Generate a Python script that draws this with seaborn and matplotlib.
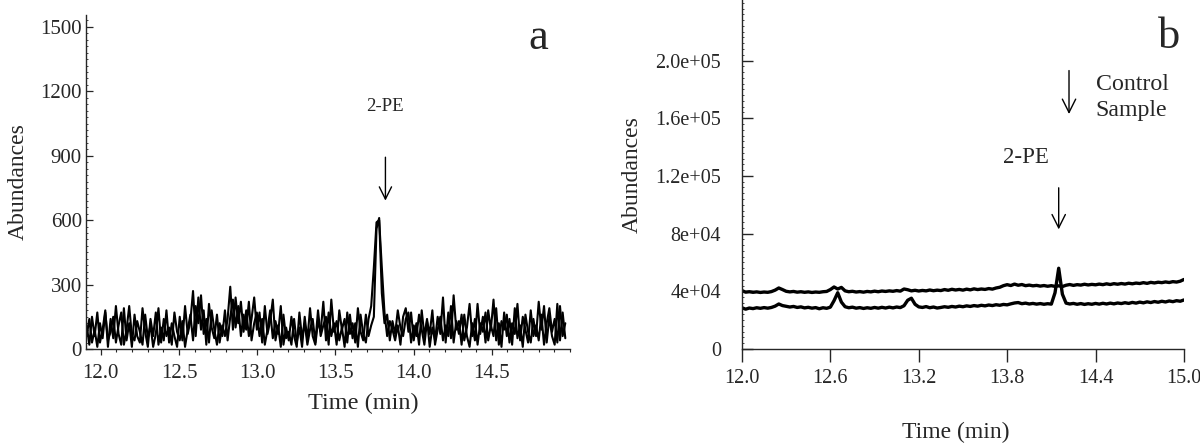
import numpy as np
import pandas as pd
import matplotlib
matplotlib.use("Agg")
import matplotlib.pyplot as plt
from matplotlib.ticker import MultipleLocator, FixedLocator
import seaborn as sns

# ---------------- data: panel a (time 11.91 .. 14.97 min, step 0.017) ----------------
a_t0, a_step = 11.91, 0.017
a_trace1 = [110, 20, 150, 60, 170, 30, 90, 180, 10, 140,
            50, 200, 70, 20, 190, 40, 120, 10, 160, 60,
            30, 190, 80, 10, 140, 60, 170, 20, 100, 40,
            180, 30, 120, 60, 10, 150, 40, 200, 70, 130,
            270, 60, 240, 90, 180, 20, 210, 100, 50, 160,
            30, 110, 60, 140, 290, 90, 240, 120, 220, 80,
            180, 60, 140, 240, 90, 170, 30, 200, 70, 130,
            230, 40, 110, 10, 160, 50, 80, 20, 140, 30,
            100, 10, 150, 40, 190, 60, 20, 130, 80, 220,
            40, 170, 60, 120, 20, 180, 90, 140, 30, 160,
            50, 120, 10, 160, 70, 30, 140, 200, 380, 590,
            600, 380, 170, 60, 130, 90, 40, 110, 20, 150,
            190, 80, 170, 40, 120, 20, 180, 60, 140, 10,
            100, 40, 150, 70, 240, 30, 170, 50, 250, 90,
            130, 20, 160, 60, 10, 120, 40, 210, 70, 150,
            30, 180, 90, 230, 40, 120, 10, 170, 60, 140,
            20, 190, 50, 110, 10, 160, 80, 30, 140, 60,
            220, 90, 200, 30, 150, 60, 20, 210, 40, 170, 50]
a_trace2 = [60, 140, 30, 90, 10, 120, 50, 170, 40, 80,
            150, 30, 110, 170, 20, 90, 200, 60, 40, 130,
            80, 20, 160, 50, 110, 10, 70, 190, 30, 140,
            60, 100, 20, 170, 80, 40, 130, 10, 90, 160,
            40, 200, 120, 250, 70, 140, 30, 180, 90, 20,
            120, 60, 180, 40, 150, 230, 100, 200, 60, 160,
            90, 220, 40, 120, 170, 60, 140, 20, 90, 180,
            50, 130, 70, 200, 20, 100, 40, 150, 60, 10,
            170, 50, 120, 20, 90, 140, 30, 180, 60, 110,
            150, 20, 230, 80, 130, 40, 100, 10, 170, 70,
            120, 30, 190, 80, 40, 160, 60, 110, 150, 560,
            610, 260, 120, 160, 40, 130, 70, 180, 100, 60,
            140, 170, 30, 110, 60, 160, 90, 20, 130, 70,
            180, 20, 90, 150, 40, 110, 60, 200, 30, 130,
            70, 160, 40, 100, 210, 60, 140, 20, 120, 80,
            170, 40, 110, 60, 190, 20, 130, 90, 160, 30,
            120, 70, 210, 40, 150, 90, 30, 180, 60, 110,
            40, 160, 20, 120, 190, 80, 140, 30, 200, 60, 120]
a_xticks = [12.0, 12.5, 13.0, 13.5, 14.0, 14.5]
a_yticks = [0, 300, 600, 900, 1200, 1500]

# ---------------- data: panel b (time 12.000 .. 15.000 min, step 0.025) ----------------
b_t0, b_step = 12.0, 0.025
b_control = [40500, 39400, 39700, 39300, 39600, 39200, 39500, 39300, 39800, 40800,
             42300, 41200, 40000, 39600, 39900, 39400, 39700, 39300, 39600, 39200,
             39500, 39300, 39700, 39900, 41200, 43000, 41600, 42700, 40300, 39700,
             40000, 39500, 39800, 39400, 39900, 39600, 40100, 39700, 40200, 39900,
             40300, 40000, 40500, 40100, 41600, 41100, 40300, 40700, 40200, 40600,
             40300, 40900, 40400, 40800, 40500, 41200, 40700, 41400, 40900, 41300,
             40800, 41500, 41000, 41700, 41200, 41600, 41300, 41900, 41500, 42300,
             42800, 43900, 44600, 44000, 45000, 44200, 44700, 43900, 44300, 43800,
             44100, 43600, 44000, 43500, 43900, 43400, 43800, 43300, 44200, 44700,
             44100, 44600, 44300, 44900, 44400, 44800, 44500, 45000, 44600, 45200,
             44700, 45300, 44900, 45400, 45000, 45600, 45200, 45700, 45400, 46000,
             45500, 46200, 45800, 46300, 46000, 46500, 46100, 46700, 46400, 47000,
             48200]
b_sample = [28600, 27600, 28400, 28000, 28600, 28200, 28700, 28300, 28800, 29700,
            31200, 30100, 29600, 29100, 29500, 28800, 29200, 28500, 28900, 28300,
            28700, 27900, 28600, 28200, 29000, 33500, 39000, 32500, 29300, 28600,
            29000, 28300, 28700, 28100, 28600, 28200, 28800, 28300, 28900, 28400,
            29000, 28500, 29100, 28700, 30000, 33800, 35200, 31000, 29200, 28800,
            29400, 28600, 29100, 28400, 28800, 29300, 28900, 29500, 29100, 29700,
            29300, 29900, 29500, 30100, 29700, 30300, 29900, 30500, 30100, 30700,
            30300, 30900, 30600, 31300, 31900, 32200, 31400, 31800, 31200, 31600,
            31100, 31500, 31000, 31400, 31100, 39000, 56000, 38000, 31800, 31200,
            31600, 31000, 31500, 30900, 31400, 31000, 31600, 31100, 31700, 31200,
            31800, 31300, 31900, 31500, 32100, 31600, 32300, 31800, 32500, 32000,
            32700, 32200, 32900, 32400, 33100, 32600, 33300, 32800, 33500, 33100,
            34000]
b_xticks = [12.0, 12.6, 13.2, 13.8, 14.4, 15.0]
b_yticks = [0, 40000, 80000, 120000, 160000, 200000]
b_yticklabels = ["0", "4e+04", "8e+04", "1.2e+05", "1.6e+05", "2.0e+05"]

# ---------------- build frames ----------------
def frame(t0, step, values, name):
    t = np.round(t0 + step * np.arange(len(values)), 4)
    return pd.DataFrame({"time": t, "abund": values, "trace": name})

df_a = pd.concat([frame(a_t0, a_step, a_trace1, "1"),
                  frame(a_t0, a_step, a_trace2, "2")], ignore_index=True)
df_b = pd.concat([frame(b_t0, b_step, b_control, "Control"),
                  frame(b_t0, b_step, b_sample, "Sample")], ignore_index=True)

# ---------------- style ----------------
sns.set_style("ticks")
plt.rcParams["font.family"] = ["Liberation Serif", "DejaVu Serif"]

fig = plt.figure(figsize=(12, 4.44), dpi=100)
ax_a = fig.add_axes([0.0717, 0.214, 0.4033, 0.752])
ax_b = fig.add_axes([0.6183, 0.214, 0.3683, 0.786])

# ---------------- panel a ----------------
for name, sub in df_a.groupby("trace"):
    sns.lineplot(data=sub, x="time", y="abund", ax=ax_a, color="black",
                 lw=1.5, estimator=None, sort=False, legend=False)
ax_a.set_xlim(11.906, 15.0)
ax_a.set_ylim(0, 1555)
ax_a.xaxis.set_major_locator(FixedLocator(a_xticks))
ax_a.xaxis.set_minor_locator(MultipleLocator(0.1))
ax_a.set_xticklabels([f"{v:.1f}" for v in a_xticks])
ax_a.yaxis.set_major_locator(FixedLocator(a_yticks))
ax_a.yaxis.set_minor_locator(MultipleLocator(30))
ax_a.set_yticklabels([str(v) for v in a_yticks])
ax_a.tick_params(axis="x", which="major", direction="out", length=4.5, width=0.9,
                 pad=6.5, labelsize=15)
ax_a.tick_params(axis="x", which="minor", direction="out", length=2.5, width=0.8)
ax_a.tick_params(axis="y", which="major", direction="in", length=5, width=0.9,
                 pad=3, labelsize=15)
ax_a.tick_params(axis="y", which="minor", direction="in", length=1.2, width=0.6)
sns.despine(ax=ax_a)
for s in ("left", "bottom"):
    ax_a.spines[s].set_linewidth(1.0)
ax_a.set_xlabel("Time (min)", fontsize=17.5, labelpad=7)
ax_a.xaxis.label.set_x(0.572)
ax_a.set_ylabel("Abundances", fontsize=17, labelpad=8)
ax_a.annotate("", xy=(13.82, 678), xytext=(13.82, 906),
              arrowprops=dict(arrowstyle="->", color="black", lw=1.0,
                              mutation_scale=22))
ax_a.text(13.82, 1130, "2-PE", ha="center", va="center", fontsize=13.5)
ax_a.text(14.8, 1450, "a", ha="center", va="center", fontsize=32)

# ---------------- panel b ----------------
for name, sub in df_b.groupby("trace"):
    sns.lineplot(data=sub, x="time", y="abund", ax=ax_b, color="black",
                 lw=2.4, estimator=None, sort=False, legend=False)
ax_b.set_xlim(12.0, 15.0)
ax_b.set_ylim(0, 242000)
ax_b.xaxis.set_major_locator(FixedLocator(b_xticks))
ax_b.set_xticklabels([f"{v:.1f}" for v in b_xticks])
ax_b.yaxis.set_major_locator(FixedLocator(b_yticks))
ax_b.yaxis.set_minor_locator(MultipleLocator(4000))
ax_b.set_yticklabels(b_yticklabels)
ax_b.tick_params(axis="x", which="major", direction="out", length=9, width=1.0,
                 pad=5.5, labelsize=14.5)
ax_b.tick_params(axis="y", which="major", direction="in", length=8, width=1.0,
                 pad=15, labelsize=14.5)
ax_b.tick_params(axis="y", which="minor", direction="in", length=1.2, width=0.6)
sns.despine(ax=ax_b)
for s in ("left", "bottom"):
    ax_b.spines[s].set_linewidth(1.0)
ax_b.set_xlabel("Time (min)", fontsize=17, labelpad=24)
ax_b.xaxis.label.set_x(0.484)
ax_b.set_ylabel("Abundances", fontsize=17, labelpad=9)
ax_b.annotate("", xy=(14.15, 81000), xytext=(14.15, 113700),
              arrowprops=dict(arrowstyle="->", color="black", lw=1.0,
                              mutation_scale=24))
ax_b.text(13.93, 133000, "2-PE", ha="center", va="center", fontsize=16.5)
ax_b.annotate("", xy=(14.22, 161000), xytext=(14.22, 195000),
              arrowprops=dict(arrowstyle="->", color="black", lw=1.0,
                              mutation_scale=24))
ax_b.text(14.40, 179600, "Control", ha="left", va="baseline", fontsize=17.2)
ax_b.text(14.40, 161500, "Sample", ha="left", va="baseline", fontsize=17.2)
ax_b.text(14.9, 216000, "b", ha="center", va="center", fontsize=32)

fig.savefig("out.png", dpi=100)
